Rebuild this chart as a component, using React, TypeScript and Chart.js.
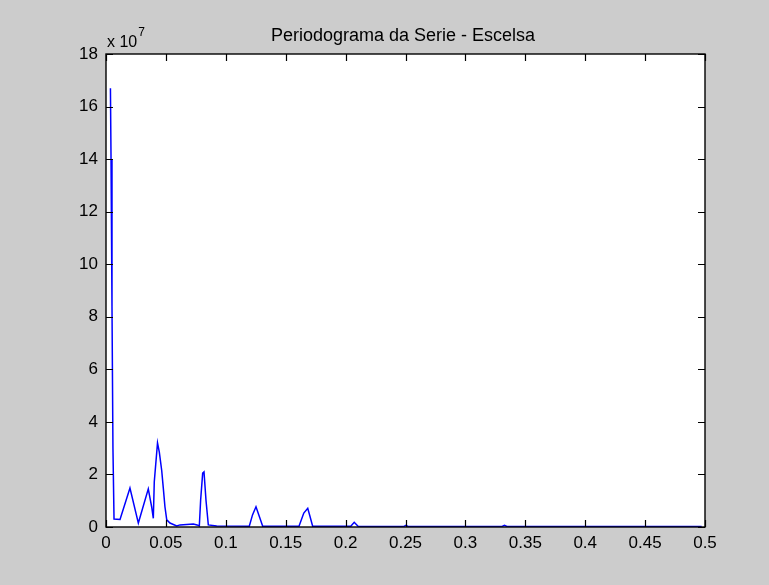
import React, { useEffect, useRef } from "react";
import { Chart, registerables } from "chart.js";

Chart.register(...registerables);

const chartTitle = "Periodograma da Serie - Escelsa";
const yExponent = "7";

// frequency (cycles per sample)
const freq = [
  0.0037, 0.0042, 0.005, 0.0058, 0.0067, 0.0117, 0.02, 0.027, 0.0353, 0.0381,
  0.0395, 0.0403, 0.043, 0.0445, 0.0465, 0.0478, 0.0492, 0.0507, 0.0534, 0.059,
  0.0618, 0.0729, 0.076, 0.0779, 0.079, 0.0807, 0.0818, 0.0835, 0.0854, 0.0924,
  0.1196, 0.1223, 0.1252, 0.128, 0.1308, 0.1611, 0.1651, 0.1684, 0.1703, 0.1725,
  0.2043, 0.2072, 0.2106, 0.2487, 0.2504, 0.2521, 0.3306, 0.3326, 0.3347, 0.4972,
];

// periodogram power (x 10^7)
const power = [
  16.7, 14.0, 8.4, 3.0, 0.3, 0.29, 1.48, 0.15, 1.45, 0.77,
  0.33, 1.72, 3.2, 2.85, 2.15, 1.5, 0.77, 0.27, 0.15, 0.04,
  0.08, 0.11, 0.08, 0.04, 1.03, 2.05, 2.1, 1.0, 0.08, 0.04,
  0.03, 0.46, 0.77, 0.4, 0.03, 0.03, 0.53, 0.71, 0.4, 0.03,
  0.03, 0.18, 0.02, 0.02, 0.06, 0.02, 0.02, 0.06, 0.02, 0.02,
];

const xTicks = [0, 0.05, 0.1, 0.15, 0.2, 0.25, 0.3, 0.35, 0.4, 0.45, 0.5];
const yTicks = [0, 2, 4, 6, 8, 10, 12, 14, 16, 18];

const FONT = "'Liberation Sans', Arial, sans-serif";

export default function App() {
  const ref = useRef<HTMLCanvasElement | null>(null);

  useEffect(() => {
    const canvas = ref.current;
    if (!canvas) return;

    const framePlugin = {
      id: "matlabFrame",
      beforeDraw(chart: any) {
        const { ctx, chartArea: a } = chart;
        ctx.save();
        ctx.fillStyle = "#cccccc";
        ctx.fillRect(0, 0, chart.width, chart.height);
        ctx.fillStyle = "#ffffff";
        ctx.fillRect(a.left, a.top, a.right - a.left, a.bottom - a.top);
        ctx.restore();
      },
      afterDraw(chart: any) {
        const { ctx, chartArea: a, scales } = chart;
        const xs = scales.x;
        const ys = scales.y;
        const tl = 7;
        ctx.save();
        ctx.strokeStyle = "#000000";
        ctx.lineWidth = 1.4;
        ctx.strokeRect(a.left, a.top, a.right - a.left, a.bottom - a.top);
        ctx.lineWidth = 1.2;
        ctx.beginPath();
        for (const v of xTicks) {
          const px = Math.round(xs.getPixelForValue(v)) + 0.5;
          ctx.moveTo(px, a.bottom);
          ctx.lineTo(px, a.bottom - tl);
          ctx.moveTo(px, a.top);
          ctx.lineTo(px, a.top + tl);
        }
        for (const v of yTicks) {
          const py = Math.round(ys.getPixelForValue(v)) + 0.5;
          ctx.moveTo(a.left, py);
          ctx.lineTo(a.left + tl, py);
          ctx.moveTo(a.right, py);
          ctx.lineTo(a.right - tl, py);
        }
        ctx.stroke();

        ctx.fillStyle = "#000000";
        ctx.font = `18px ${FONT}`;
        ctx.textAlign = "center";
        ctx.textBaseline = "alphabetic";
        ctx.fillText(chartTitle, 403, 41);

        ctx.textAlign = "left";
        ctx.font = `16px ${FONT}`;
        const base = "x 10";
        ctx.fillText(base, a.left + 1, 47);
        const w = ctx.measureText(base).width;
        ctx.font = `12px ${FONT}`;
        ctx.fillText(yExponent, a.left + 1 + w + 1, 36);
        ctx.restore();
      },
    };

    const chart = new Chart(canvas, {
      type: "line",
      data: {
        datasets: [
          {
            data: freq.map((f, i) => ({ x: f, y: power[i] })),
            borderColor: "#0000ff",
            borderWidth: 1.5,
            pointRadius: 0,
            fill: false,
            tension: 0,
          },
        ],
      },
      options: {
        responsive: false,
        animation: false,
        layout: { padding: { top: 54, right: 64, left: 0, bottom: 0 } },
        plugins: {
          legend: { display: false },
          tooltip: { enabled: false },
          title: { display: false },
        },
        scales: {
          x: {
            type: "linear",
            min: 0,
            max: 0.5,
            grid: { display: false, drawTicks: false },
            border: { display: false },
            afterBuildTicks: (s: any) => {
              s.ticks = xTicks.map((v) => ({ value: v }));
            },
            afterFit: (s: any) => {
              s.height = 58;
            },
            ticks: {
              color: "#000000",
              font: { family: FONT, size: 17 },
              padding: 6,
              maxRotation: 0,
              autoSkip: false,
              callback: (v: any) => String(Number(Number(v).toFixed(2))),
            },
          },
          y: {
            type: "linear",
            min: 0,
            max: 18,
            grid: { display: false, drawTicks: false },
            border: { display: false },
            afterBuildTicks: (s: any) => {
              s.ticks = yTicks.map((v) => ({ value: v }));
            },
            afterFit: (s: any) => {
              s.width = 106;
            },
            ticks: {
              color: "#000000",
              font: { family: FONT, size: 17 },
              padding: 8,
              autoSkip: false,
              callback: (v: any) => String(v),
            },
          },
        },
      },
      plugins: [framePlugin],
    } as any);

    return () => chart.destroy();
  }, []);

  return (
    <div style={{ position: "fixed", left: 0, top: 0, width: 769, height: 585, background: "#cccccc" }}>
      <canvas ref={ref} width={769} height={585} style={{ display: "block" }} />
    </div>
  );
}
